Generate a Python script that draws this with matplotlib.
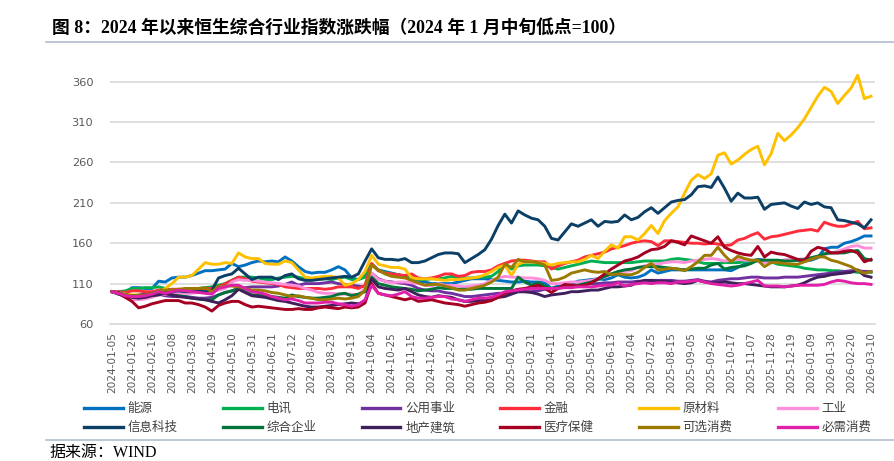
import matplotlib
matplotlib.use('Agg')
import matplotlib.pyplot as plt
from matplotlib.lines import Line2D

plt.rcParams['font.family'] = ['Noto Sans CJK SC', 'DejaVu Sans']

# ---------------- data ----------------
tick_labels = ['2024-01-05', '2024-01-26', '2024-02-16', '2024-03-08', '2024-03-28',
               '2024-04-19', '2024-05-10', '2024-05-31', '2024-06-21', '2024-07-12',
               '2024-08-02', '2024-08-23', '2024-09-13', '2024-10-04', '2024-10-25',
               '2024-11-15', '2024-12-06', '2024-12-27', '2025-01-17', '2025-02-07',
               '2025-02-28', '2025-03-21', '2025-04-11', '2025-05-02', '2025-05-23',
               '2025-06-13', '2025-07-04', '2025-07-25', '2025-08-15', '2025-09-05',
               '2025-09-26', '2025-10-17', '2025-11-07', '2025-11-28', '2025-12-19',
               '2026-01-09', '2026-01-30', '2026-02-20', '2026-03-10']
tick_step = 3

names = ['能源', '电讯', '公用事业', '金融', '原材料', '工业',
         '信息科技', '综合企业', '地产建筑', '医疗保健', '可选消费', '必需消费']
colors = ['#0070C0', '#00B050', '#7030A0', '#FF2D3C', '#FFC000', '#FF8FDC',
          '#0B3F66', '#00753A', '#3F1F5C', '#A50021', '#9C7A00', '#E020A8']

energy = [100, 99, 98, 105, 105, 104, 104, 113, 112, 117,
          118, 118, 120, 123, 126, 126, 127, 128, 135, 131,
          133, 136, 138, 137, 138, 137, 143, 138, 131, 125,
          123, 124, 124, 127, 131, 127, 117, 115, 120, 134,
          127, 125, 123, 121, 119, 117, 113, 112, 110, 110,
          110, 110, 112, 114, 116, 116, 116, 115, 114, 113,
          112, 112, 113, 112, 112, 111, 104, 107, 108, 110,
          113, 114, 115, 116, 115, 117, 121, 118, 117, 118,
          121, 127, 123, 125, 127, 127, 127, 127, 127, 127,
          127, 127, 127, 126, 130, 134, 138, 140, 139, 138,
          138, 139, 139, 139, 138, 139, 142, 153, 155, 155,
          160, 162, 165, 169, 169]
telecom = [100, 100, 101, 104, 104, 105, 105, 106, 104, 102,
           102, 103, 104, 104, 105, 106, 108, 110, 114, 118,
           118, 118, 117, 115, 115, 117, 118, 119, 118, 116,
           116, 116, 116, 115, 117, 118, 115, 115, 118, 134,
           126, 124, 122, 121, 119, 117, 115, 115, 116, 116,
           117, 119, 118, 117, 117, 118, 118, 119, 125, 135,
           128, 132, 133, 133, 133, 132, 130, 128, 130, 132,
           134, 136, 138, 137, 136, 136, 136, 136, 136, 137,
           138, 138, 138, 138, 140, 141, 140, 139, 137, 135,
           135, 135, 136, 136, 136, 137, 138, 138, 138, 137,
           134, 133, 132, 131, 129, 128, 127, 127, 126, 126,
           125, 125, 124, 124, 124]
utilities = [100, 97, 95, 94, 96, 98, 98, 97, 95, 94,
             94, 94, 93, 92, 92, 93, 96, 99, 101, 104,
             105, 106, 106, 106, 106, 107, 109, 112, 108, 110,
             110, 110, 111, 112, 110, 109, 108, 107, 106, 123,
             116, 113, 112, 111, 110, 108, 104, 102, 101, 101,
             99, 98, 96, 94, 94, 95, 96, 97, 98, 98,
             99, 100, 100, 100, 101, 103, 104, 105, 106, 108,
             108, 109, 110, 110, 111, 111, 112, 112, 112, 113,
             113, 114, 114, 114, 114, 113, 113, 114, 115, 113,
             112, 114, 115, 116, 116, 117, 118, 118, 117, 117,
             117, 118, 118, 118, 119, 120, 121, 122, 123, 124,
             125, 126, 126, 125, 125]
finance = [100, 100, 99, 101, 101, 100, 100, 102, 102, 103,
           103, 102, 103, 104, 104, 104, 106, 110, 114, 118,
           116, 113, 112, 111, 110, 109, 106, 105, 104, 104,
           104, 104, 103, 104, 106, 106, 106, 104, 108, 135,
           126, 123, 122, 121, 120, 122, 117, 116, 117, 119,
           122, 122, 119, 120, 124, 125, 125, 127, 132, 135,
           138, 139, 139, 138, 137, 137, 128, 132, 135, 137,
           139, 143, 145, 147, 149, 153, 155, 157, 160, 162,
           163, 162, 157, 163, 163, 162, 161, 160, 160, 159,
           160, 159, 157, 158, 164, 166, 170, 173, 165, 168,
           169, 171, 173, 175, 176, 177, 175, 186, 183, 181,
           181, 184, 187, 178, 179]
materials = [100, 99, 97, 96, 96, 95, 96, 99, 104, 110,
             118, 118, 120, 128, 136, 134, 134, 136, 135, 148,
             143, 141, 141, 135, 134, 134, 138, 136, 127, 118,
             117, 118, 119, 119, 117, 108, 110, 115, 125, 145,
             134, 132, 130, 130, 128, 117, 116, 116, 116, 115,
             114, 115, 115, 116, 117, 118, 121, 125, 130, 133,
             120, 134, 137, 137, 136, 135, 133, 135, 136, 137,
             137, 140, 145, 141, 150, 158, 154, 168, 168, 164,
             172, 182, 172, 188, 197, 205, 222, 238, 245, 240,
             246, 269, 272, 258, 263, 270, 276, 280, 257, 271,
             296, 287, 294, 303, 314, 328, 342, 353, 348, 333,
             343, 352, 368, 339, 342]
industrials = [100, 98, 93, 90, 90, 91, 93, 96, 97, 97,
               98, 98, 98, 99, 100, 100, 102, 104, 112, 115,
               114, 114, 113, 112, 111, 110, 109, 108, 107, 104,
               102, 99, 98, 98, 97, 97, 97, 96, 104, 123,
               115, 113, 111, 112, 112, 111, 110, 108, 107, 110,
               108, 108, 107, 106, 107, 108, 110, 114, 117, 119,
               118, 118, 117, 117, 116, 114, 110, 110, 111, 112,
               112, 113, 114, 116, 118, 122, 124, 125, 126, 130,
               132, 134, 134, 136, 137, 137, 136, 138, 139, 140,
               141, 140, 138, 139, 140, 139, 139, 138, 136, 137,
               138, 139, 140, 140, 141, 142, 144, 146, 148, 150,
               153, 156, 157, 154, 154]
infotech = [100, 99, 96, 95, 95, 96, 98, 99, 99, 100,
            101, 100, 100, 101, 100, 102, 117, 120, 122, 129,
            122, 115, 118, 118, 118, 115, 120, 122, 116, 114,
            114, 115, 116, 117, 118, 119, 118, 122, 138, 153,
            142, 140, 140, 139, 141, 136, 136, 138, 142, 146,
            148, 148, 147, 136, 141, 146, 152, 165, 182, 196,
            185, 200, 195, 191, 189, 181, 166, 164, 174, 184,
            181, 185, 189, 181, 187, 186, 187, 195, 189, 192,
            199, 204, 197, 204, 211, 213, 214, 220, 230, 231,
            229, 242, 228, 212, 222, 216, 216, 217, 202, 208,
            209, 210, 206, 203, 211, 208, 210, 205, 204, 189,
            188, 186, 184, 179, 189]
conglomerates = [100, 98, 96, 95, 94, 95, 97, 99, 98, 96,
                 95, 94, 92, 91, 90, 90, 96, 99, 101, 104,
                 100, 96, 96, 95, 94, 93, 92, 96, 94, 93,
                 92, 92, 93, 94, 97, 98, 95, 97, 100, 118,
                 110, 108, 106, 105, 104, 103, 101, 102, 103, 105,
                 104, 104, 103, 103, 103, 104, 104, 104, 104, 104,
                 104, 118, 112, 108, 111, 107, 104, 105, 106, 106,
                 108, 110, 112, 115, 119, 122, 125, 127, 128, 130,
                 131, 131, 131, 130, 129, 128, 127, 128, 129, 129,
                 133, 135, 128, 130, 131, 132, 135, 139, 139, 139,
                 139, 138, 138, 139, 140, 142, 144, 147, 148, 148,
                 148, 150, 151, 141, 139]
property_ = [100, 97, 94, 93, 92, 93, 95, 96, 98, 96,
             94, 93, 92, 91, 90, 88, 86, 90, 95, 103,
             99, 95, 94, 93, 91, 89, 88, 86, 84, 82,
             81, 81, 82, 83, 84, 85, 86, 85, 88, 116,
             106, 104, 103, 102, 104, 100, 96, 94, 93, 95,
             94, 93, 90, 88, 88, 89, 90, 91, 93, 94,
             97, 100, 100, 99, 97, 94, 96, 97, 98, 100,
             100, 101, 102, 102, 104, 106, 106, 107, 108, 112,
             114, 114, 113, 113, 112, 111, 110, 111, 114, 112,
             111, 111, 112, 111, 110, 110, 109, 108, 107, 106,
             106, 106, 107, 108, 111, 115, 118, 119, 121, 122,
             123, 124, 127, 120, 118]
healthcare = [100, 98, 93, 88, 80, 82, 85, 87, 89, 89,
              89, 86, 86, 84, 81, 76, 83, 86, 88, 88,
              84, 81, 82, 81, 80, 79, 78, 78, 79, 78,
              78, 80, 81, 80, 79, 81, 80, 81, 86, 110,
              98, 96, 94, 92, 90, 92, 88, 89, 90, 88,
              86, 85, 84, 82, 84, 86, 87, 89, 93, 98,
              101, 103, 104, 106, 108, 104, 99, 104, 109, 108,
              107, 108, 111, 116, 122, 128, 133, 138, 140, 143,
              148, 152, 153, 156, 163, 161, 158, 169, 166, 163,
              160, 168, 155, 151, 148, 146, 145, 156, 143, 149,
              147, 146, 143, 140, 138, 150, 155, 153, 148, 148,
              150, 151, 148, 137, 140]
consumer_disc = [100, 98, 96, 95, 95, 96, 98, 101, 102, 102,
                 103, 104, 104, 104, 105, 100, 106, 107, 107, 106,
                 104, 102, 102, 101, 99, 98, 96, 94, 95, 93,
                 92, 90, 90, 91, 92, 91, 92, 94, 102, 133,
                 127, 122, 119, 118, 117, 114, 111, 108, 109, 109,
                 107, 105, 102, 102, 104, 106, 108, 112, 118, 134,
                 130, 140, 137, 137, 136, 133, 114, 115, 118, 123,
                 125, 127, 125, 124, 125, 121, 122, 121, 121, 124,
                 130, 135, 127, 128, 129, 128, 126, 131, 137, 145,
                 145, 155, 145, 137, 144, 141, 139, 139, 131, 136,
                 136, 135, 134, 134, 137, 140, 143, 143, 139, 137,
                 134, 131, 126, 123, 125]
consumer_staples = [100, 98, 95, 94, 94, 95, 97, 100, 98, 100,
                    102, 101, 100, 99, 98, 97, 104, 106, 108, 108,
                    104, 100, 99, 97, 94, 92, 90, 91, 89, 86,
                    86, 86, 87, 87, 85, 84, 82, 84, 90, 108,
                    98, 96, 95, 97, 100, 94, 92, 92, 93, 94,
                    94, 91, 90, 88, 90, 92, 92, 93, 96, 100,
                    101, 102, 103, 104, 104, 104, 104, 104, 105, 105,
                    106, 106, 106, 107, 108, 108, 111, 107, 109, 110,
                    111, 110, 111, 111, 110, 112, 112, 113, 114, 112,
                    110, 109, 108, 107, 108, 110, 112, 114, 107, 107,
                    107, 106, 107, 108, 108, 108, 108, 109, 112, 114,
                    113, 111, 110, 110, 109]

series = [energy, telecom, utilities, finance, materials, industrials,
          infotech, conglomerates, property_, healthcare, consumer_disc, consumer_staples]

# ---------------- figure ----------------
W, H = 894, 461
fig = plt.figure(figsize=(W / 100, H / 100), dpi=100)
ax = fig.add_axes([110 / W, 1 - 324 / H, (875 - 110) / W, (324 - 41.3) / H])

x = list(range(len(energy)))
for vals, name, col in zip(series, names, colors):
    ax.plot(x, vals, color=col, lw=2.1, solid_joinstyle='round', label=name)

ax.set_xlim(-0.3, len(energy) - 1 + 0.6)
ax.set_ylim(60, 410)
ax.set_yticks([60, 110, 160, 210, 260, 310, 360])
ax.set_xticks(list(range(0, len(energy), tick_step)))
ax.set_xticklabels(tick_labels, rotation=90, fontsize=7.6, color='#595959',
                   family='DejaVu Sans')
for lab in ax.get_yticklabels():
    lab.set_fontsize(8.2)
    lab.set_color('#595959')
    lab.set_family('DejaVu Sans')
ax.tick_params(axis='both', length=0)
ax.tick_params(axis='y', pad=12)
ax.tick_params(axis='x', pad=6)
ax.yaxis.grid(True, color='#D9D9D9', lw=1.2)
ax.set_axisbelow(True)
for s in ['top', 'right', 'left']:
    ax.spines[s].set_visible(False)
ax.spines['bottom'].set_color('#D9D9D9')
ax.spines['bottom'].set_linewidth(1.2)

# legend (row-major order across 6 columns)
order = [0, 6, 1, 7, 2, 8, 3, 9, 4, 10, 5, 11]
leg_handles = [Line2D([0], [0], color=colors[i], lw=2.4) for i in order]
leg_labels = [names[i] for i in order]
leg = fig.legend(leg_handles, leg_labels, ncol=6, loc='upper left',
                 bbox_to_anchor=(84 / W, 1 - 402 / H), frameon=False,
                 fontsize=9, handlelength=3.1, handletextpad=0.4,
                 columnspacing=3.6, labelspacing=0.5, borderpad=0,
                 borderaxespad=0)
for t in leg.get_texts():
    t.set_color('#404040')

# title and source
fig.text(52 / W, 1 - 28 / H, '图 8：2024 年以来恒生综合行业指数涨跌幅（2024 年 1 月中旬低点=100）',
         fontsize=12.8, fontweight='bold', ha='left', va='center',
         family=['Liberation Serif', 'Noto Sans CJK SC'])
fig.text(50 / W, 1 - 453 / H, '据来源：WIND', fontsize=11.5, ha='left', va='center',
         family=['Liberation Serif', 'Noto Sans CJK SC'])

# separator lines
sep = '#A9B7CC'
fig.add_artist(Line2D([46 / W, 1], [1 - 42 / H, 1 - 42 / H], color=sep, lw=1.1,
                      transform=fig.transFigure))
fig.add_artist(Line2D([46 / W, 1], [1 - 440 / H, 1 - 440 / H], color=sep, lw=1.1,
                      transform=fig.transFigure))

fig.savefig('out.png', dpi=100)
